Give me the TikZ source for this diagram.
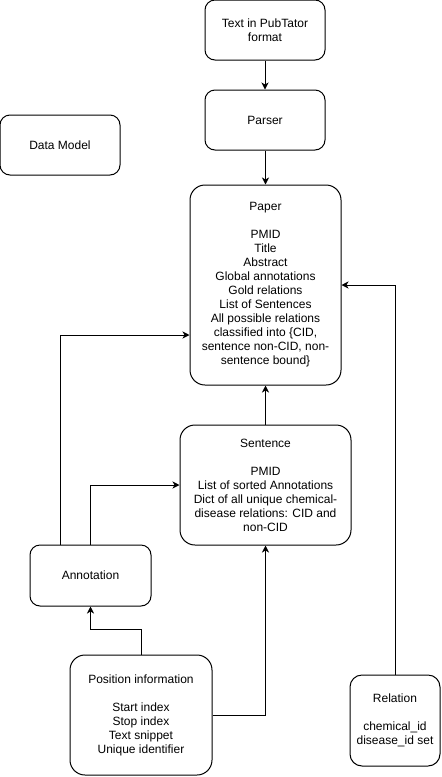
\documentclass[tikz,border=0pt]{standalone}
\usepackage{fontspec}
\setmainfont{Liberation Sans}
\usepackage{tikz}
\usetikzlibrary{arrows.meta}

\tikzset{
	box/.style = {draw, line width=1pt, rounded corners=10pt, align=center, inner sep=0pt,
		font=\fontsize{12}{14}\selectfont},
	link/.style = {line width=1pt, -{Stealth[length=7pt, width=7pt, inset=2pt]}}
}

\begin{document}
\begin{tikzpicture}[x=1pt, y=1pt]
	\useasboundingbox (0,0) rectangle (442,-777);
	% boxes
	\node [box, minimum width=120, minimum height=60] (pubtator) at (265,-30) {Text in PubTator\\format};
	\node [box, minimum width=120, minimum height=60] (parser) at (265,-120) {Parser};
	\node [box, minimum width=120, minimum height=60] (datamodel) at (60,-145) {Data Model};
	\node [box, minimum width=151, minimum height=200, rounded corners=15pt] (paper) at (265.5,-285) {Paper\\[14pt]PMID\\Title\\Abstract\\Global annotations\\Gold relations\\List of Sentences\\All possible relations\\classified into \{CID,\\sentence non-CID, non-\\sentence bound\}};
	\node [box, minimum width=171, minimum height=120, rounded corners=15pt] (sentence) at (265.5,-485) {Sentence\\[14pt]PMID\\List of sorted Annotations\\Dict of all unique chemical-\\disease relations: CID and\\non-CID};
	\node [box, minimum width=121, minimum height=61] (annotation) at (90.5,-575.5) {Annotation};
	\node [box, minimum width=142, minimum height=120, rounded corners=15pt] (position) at (141,-715) {Position information\\[14pt]Start index\\Stop index\\Text snippet\\Unique identifier};
	\node [box, minimum width=90, minimum height=91, rounded corners=12pt] (relation) at (395,-720.5) {Relation\\[14pt]chemical\_id\\disease\_id set};
	% connectors
	\draw [link] (pubtator) -- (parser);
	\draw [link] (parser.south -| paper.north) -- (paper);
	\draw [link] (sentence.north -| paper.south) -- (paper.south);
	\draw [link] ([xshift=-30.5pt]annotation.north) |- ([yshift=-50pt]paper.west);
	\draw [link] (annotation.north) |- (sentence.west);
	\draw [link] (position.north) -- ++(0,25) -| (annotation.south);
	\draw [link] (position.east) -| (sentence.south);
	\draw [link] (relation.north) |- (paper.east);
\end{tikzpicture}
\end{document}
